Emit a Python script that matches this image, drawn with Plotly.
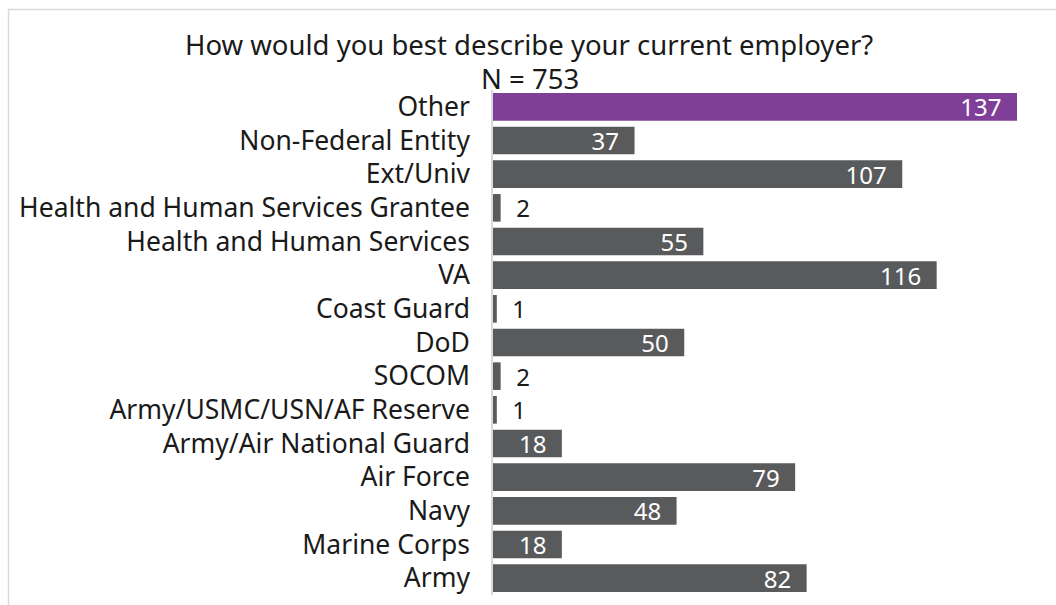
import plotly.graph_objects as go

categories = ["Other", "Non-Federal Entity", "Ext/Univ", "Health and Human Services Grantee",
              "Health and Human Services", "VA", "Coast Guard", "DoD", "SOCOM",
              "Army/USMC/USN/AF Reserve", "Army/Air National Guard", "Air Force", "Navy",
              "Marine Corps", "Army"]
values = [137, 37, 107, 2, 55, 116, 1, 50, 2, 1, 18, 79, 48, 18, 82]
title_line1 = "How would you best describe your current employer?"
title_line2 = "N = 753"

PURPLE = "#7F3F98"
GRAY = "#595A5C"
FONT = "Noto Sans"

colors = [PURPLE if c == "Other" else GRAY for c in categories]
positions = ["inside" if v >= 10 else "outside" for v in values]
texts = [f"{v}\u00a0\u00a0" if v >= 10 else f"\u00a0\u00a0{v}" for v in values]

fig = go.Figure(go.Bar(
    x=values, y=categories, orientation="h",
    marker=dict(color=colors, line=dict(width=0)),
    text=texts, textposition=positions, insidetextanchor="end",
    textangle=0, constraintext="none", cliponaxis=False,
    insidetextfont=dict(color="white", size=24, family=FONT),
    outsidetextfont=dict(color="#1a1a1a", size=24, family=FONT),
    hoverinfo="skip",
))

L, R, T, B = 493, 20, 90, 10
W, H = 1056, 605
pw, ph = W - L - R, H - T - B
scale = 524 / 137
xmax = pw / scale

def px2paper_x(px):
    return (px - L) / pw

def py2paper_y(py):
    return (H - B - py) / ph

fig.update_layout(
    width=W, height=H,
    margin=dict(l=L, r=R, t=T, b=B),
    paper_bgcolor="white", plot_bgcolor="white",
    bargap=0.18,
    showlegend=False,
    font=dict(family=FONT, size=20, color="#1a1a1a"),
    xaxis=dict(range=[0, xmax], visible=False, fixedrange=True),
    yaxis=dict(categoryorder="array", categoryarray=categories[::-1],
               showline=True, linecolor="#d9d9d9", linewidth=1.5,
               ticks="", ticklabelstandoff=16, showgrid=False,
               tickfont=dict(size=26.5, family=FONT, color="#1a1a1a"), fixedrange=True),
    annotations=[
        dict(text=title_line1, xref="paper", yref="paper",
             x=px2paper_x(529), y=py2paper_y(45), xanchor="center", yanchor="middle",
             showarrow=False, font=dict(size=27.5, family=FONT, color="#1a1a1a")),
        dict(text=title_line2, xref="paper", yref="paper",
             x=px2paper_x(530), y=py2paper_y(79), xanchor="center", yanchor="middle",
             showarrow=False, font=dict(size=27.5, family=FONT, color="#1a1a1a")),
    ],
    shapes=[
        dict(type="line", xref="paper", yref="paper",
             x0=px2paper_x(8), x1=px2paper_x(1070), y0=py2paper_y(9.5), y1=py2paper_y(9.5),
             line=dict(color="#d9d9d9", width=1.5)),
        dict(type="line", xref="paper", yref="paper",
             x0=px2paper_x(8.5), x1=px2paper_x(8.5), y0=py2paper_y(9), y1=py2paper_y(620),
             line=dict(color="#d9d9d9", width=1.5)),
    ],
)

fig.write_html("out.html", config={"displayModeBar": False})
